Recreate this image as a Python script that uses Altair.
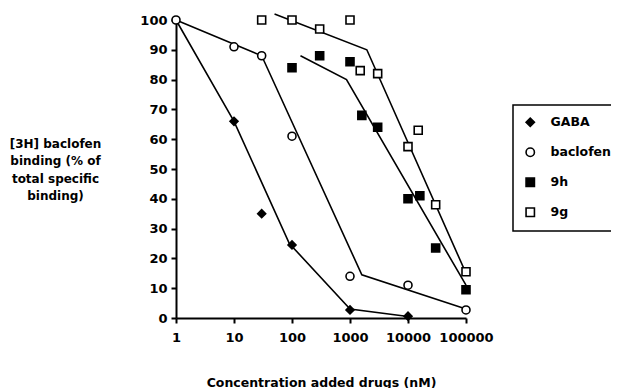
import altair as alt
import pandas as pd

series_order = ["GABA", "baclofen", "9h", "9g"]

gaba_x = [10, 30, 100, 1000, 10000]
gaba_y = [66, 35, 24.5, 2.7, 0.6]

baclofen_x = [1, 10, 30, 100, 1000, 10000, 100000]
baclofen_y = [100, 91, 88, 61, 14, 11, 2.7]

h9_x = [100, 300, 1000, 1600, 3000, 10000, 16000, 30000, 100000]
h9_y = [84, 88, 86, 68, 64, 40, 41, 23.5, 9.5]

g9_x = [30, 100, 300, 1000, 1500, 3000, 10000, 15000, 30000, 100000]
g9_y = [100, 100, 97, 100, 83, 82, 57.5, 63, 38, 15.5]

# fitted curves
gaba_fit_x = [1, 10, 90, 1000, 10000]
gaba_fit_y = [100, 66, 25, 3, 0.5]
baclofen_fit_x = [1, 30, 1600, 100000]
baclofen_fit_y = [100, 88, 14.5, 3]
h9_fit_x = [140, 870, 100000]
h9_fit_y = [88, 80, 11]
g9_fit_x = [50, 1950, 100000]
g9_fit_y = [102, 90, 15]

x_ticks = [1, 10, 100, 1000, 10000, 100000]
y_ticks = [0, 10, 20, 30, 40, 50, 60, 70, 80, 90, 100]

pts = []
for name, xs, ys in [("GABA", gaba_x, gaba_y), ("baclofen", baclofen_x, baclofen_y),
                     ("9h", h9_x, h9_y), ("9g", g9_x, g9_y)]:
    for a, b in zip(xs, ys):
        pts.append({"series": name, "conc": a, "pct": b})
pts = pd.DataFrame(pts)

fits = []
for name, xs, ys in [("GABA", gaba_fit_x, gaba_fit_y), ("baclofen", baclofen_fit_x, baclofen_fit_y),
                     ("9h", h9_fit_x, h9_fit_y), ("9g", g9_fit_x, g9_fit_y)]:
    for i, (a, b) in enumerate(zip(xs, ys)):
        fits.append({"series": name, "conc": a, "pct": b, "order": i})
fits = pd.DataFrame(fits)

FONT = "DejaVu Sans"

xenc = alt.X("conc:Q",
             scale=alt.Scale(type="log", domain=[1, 100000]),
             axis=alt.Axis(values=x_ticks, format="d", title="Concentration added drugs (nM)",
                           titleY=64, titleBaseline="middle", labelPadding=8,
                           labelFontSize=13, titleFontSize=12.5, labelFlush=False))
yenc = alt.Y("pct:Q",
             scale=alt.Scale(domain=[0, 100], nice=False),
             axis=alt.Axis(values=y_ticks, title=["[3H] baclofen", "binding (% of", "total specific", "binding)"],
                           titleAngle=0, titleAlign="center", titleBaseline="top",
                           titleX=-121, titleY=118, titleLineHeight=17.5,
                           labelPadding=4, labelFontSize=13, titleFontSize=12))

lines = alt.Chart(fits).mark_line(color="black", strokeWidth=1.6, clip=False).encode(
    x=xenc, y=yenc, detail="series:N", order="order:Q")

legend = alt.Legend(title=None, symbolStrokeColor="black", symbolStrokeWidth=1.6, symbolSize=70)

points = alt.Chart(pts).mark_point(filled=False, strokeWidth=1.6, size=64, opacity=1).encode(
    x=xenc, y=yenc,
    shape=alt.Shape("series:N", scale=alt.Scale(domain=series_order,
                                                 range=["diamond", "circle", "square", "square"]),
                    legend=legend),
    fill=alt.Fill("series:N", scale=alt.Scale(domain=series_order,
                                               range=["black", "white", "black", "white"]),
                  legend=legend),
    stroke=alt.Stroke("series:N", scale=alt.Scale(domain=series_order,
                                                   range=["black", "black", "black", "black"]),
                      legend=legend),
)

chart = alt.layer(lines, points).properties(
    width=290, height=298,
    autosize=alt.AutoSizeParams(type="none"),
    padding={"left": 168, "top": 12, "right": 145, "bottom": 70},
).configure_view(stroke=None).configure_axis(
    domainColor="black", domainWidth=2, tickColor="black", tickWidth=2, tickSize=5,
    grid=False, labelColor="black", titleColor="black", labelFont=FONT, titleFont=FONT,
    labelFontWeight="bold", titleFontWeight="bold",
).configure_legend(
    orient="none", legendX=337, legendY=85, strokeColor="black", strokeWidth=1.5,
    padding=11, rowPadding=14, labelFont=FONT, labelFontWeight="bold", labelFontSize=12.5,
    labelColor="black", labelOffset=14, fillColor="white",
)

chart.save("out.html", embed_options={"renderer": "svg", "actions": False})
